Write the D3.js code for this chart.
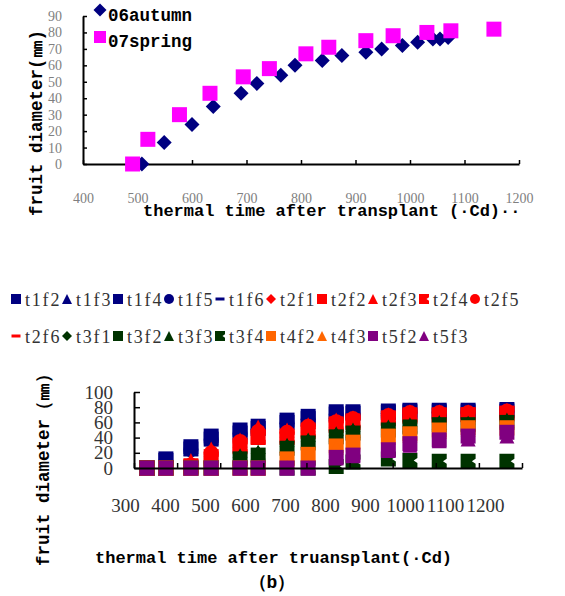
<!DOCTYPE html>
<html>
<head>
<meta charset="utf-8">
<script src="https://cdn.jsdelivr.net/npm/d3@7"></script>
<style>
  body { margin: 0; background: #fff; }
  .mono { font-family: "Liberation Mono", monospace; font-weight: bold; fill: #000; }
</style>
</head>
<body>
<script>
// ---- top chart (a): two seasons ----
const x06 = [508, 549, 600, 639, 690, 719, 763, 789, 839, 875, 919, 948, 986, 1014, 1042, 1055, 1070];
const y06 = [0, 13, 24, 35, 43, 49, 54, 60, 63, 66, 68, 70, 72, 74, 76, 76, 77];
const x07 = [491, 519, 577, 633, 694, 742, 809, 851, 919, 969, 1031, 1075, 1154];
const y07 = [0, 15, 30, 43, 53, 58, 67, 71, 75, 78, 80, 81, 82];
const topXTicks = [400, 500, 600, 700, 800, 900, 1000, 1100, 1200];
const topYTicks = [0, 10, 20, 30, 40, 50, 60, 70, 80, 90];

// ---- bottom chart (b): treatments ----
const tt = [330, 374, 432, 479, 546, 588, 655, 704, 769, 808, 890, 940, 1008, 1075, 1165];
const names = ["t1f2", "t1f3", "t1f4", "t1f5", "t1f6", "t2f1", "t2f2", "t2f3", "t2f4", "t2f5",
               "t2f6", "t3f1", "t3f2", "t3f3", "t3f4", "t4f2", "t4f3", "t5f2", "t5f3"];
const t1f2 = [0, 12, 28, 42, 50, 55, 63, 68, 74, 74, 75, 76, 76, 76, 77];
const t1f3 = [0, 11, 26, 40, 48, 53, 61, 66, 72, 73, 74, 75, 75, 75, 76];
const t1f4 = [0, 10, 25, 38, 46, 52, 60, 65, 71, 72, 73, 74, 74, 74, 75];
const t1f5 = [0, 9, 24, 37, 45, 51, 59, 64, 70, 71, 72, 73, 73, 73, 74];
const t1f6 = [0, 8, 22, 35, 44, 50, 58, 63, 69, 70, 71, 72, 72, 72, 73];
const t2f1 = [0, 0, 5, 18, 33, 45, 45, 52, 60, 64, 68, 72, 72, 72, 74];
const t2f2 = [0, 0, 3, 15, 30, 41, 42, 50, 58, 62, 66, 70, 70, 70, 72];
const t2f3 = [0, 0, 10, 25, 37, 54, 50, 57, 63, 66, 70, 74, 74, 74, 76];
const t2f4 = [0, 0, 2, 12, 28, 40, 40, 48, 56, 60, 65, 68, 69, 70, 72];
const t2f5 = [0, 0, 4, 20, 35, 48, 47, 55, 61, 65, 69, 73, 73, 73, 75];
const t2f6 = [0, 0, 0, 10, 25, 38, 38, 45, 55, 58, 64, 67, 68, 69, 71];
const t3f1 = [0, 0, 0, 0, 14, 19, 28, 35, 43, 48, 52, 55, 58, 58, 61];
const t3f2 = [0, 0, 0, 0, 12, 17, 26, 33, 41, 46, 50, 54, 57, 57, 60];
const t3f3 = [0, 0, 0, 0, 16, 21, 30, 37, 45, 50, 54, 57, 60, 59, 63];
const t3f4 = [0, 0, 0, 0, 0, 0, 0, 0, 2, 8, 12, 10, 9, 9, 9];
const t4f2 = [0, 0, 0, 0, 0, 0, 12, 18, 29, 34, 42, 45, 50, 53, 53];
const t4f3 = [0, 0, 0, 0, 0, 0, 10, 16, 27, 32, 40, 43, 48, 51, 52];
const t5f2 = [0, 0, 0, 0, 0, 0, 0, 0, 14, 17, 24, 32, 37, 42, 47];
const t5f3 = [0, 0, 0, 0, 0, 0, 0, 0, 13, 16, 23, 30, 36, 38, 42];
const values = [t1f2, t1f3, t1f4, t1f5, t1f6, t2f1, t2f2, t2f3, t2f4, t2f5,
                t2f6, t3f1, t3f2, t3f3, t3f4, t4f2, t4f3, t5f2, t5f3];
const botXTicks = [300, 400, 500, 600, 700, 800, 900, 1000, 1100, 1200];
const botYTicks = [0, 20, 40, 60, 80, 100];

const shapes = ["square", "triangle", "square", "circle", "dash", "diamond", "square", "triangle", "notch", "circle",
                "dash", "diamond", "square", "triangle", "notch", "square", "triangle", "square", "triangle"];
const colors = ["#000080", "#000080", "#000080", "#000080", "#000080",
                "#ff0000", "#ff0000", "#ff0000", "#ff0000", "#ff0000", "#ff0000",
                "#003300", "#003300", "#003300", "#003300",
                "#ff6600", "#ff6600", "#800080", "#800080"];

// marker paths, s = full size in px
function marker(shape, s) {
  const h = s / 2;
  if (shape === "square") return `M${-h},${-h}h${s}v${s}h${-s}Z`;
  if (shape === "triangle") return `M0,${-h}L${h},${h}L${-h},${h}Z`;
  if (shape === "diamond") return `M0,${-h}L${h},0L0,${h}L${-h},0Z`;
  if (shape === "circle") return d3.arc()({innerRadius: 0, outerRadius: h, startAngle: 0, endAngle: 2 * Math.PI});
  if (shape === "dash") return `M${-h * 0.9},${-s * 0.15}h${s * 0.9}v${s * 0.3}h${-s * 0.9}Z`;
  if (shape === "notch") return `M${-h},${-h}H${h}V${-s / 6}L${s / 4},0L${h},${s / 6}V${h}H${-h}Z`;
}

const w = 565, h = 596;
const svg = d3.select("body").append("svg").attr("width", w).attr("height", h)
  .style("font-family", "'Liberation Serif', serif");
svg.append("rect").attr("width", w).attr("height", h).attr("fill", "#fff");

// ================= top chart =================
const xTop = d3.scaleLinear().domain([400, 1200]).range([83, 519]);
const yTop = d3.scaleLinear().domain([0, 90]).range([164, 16]);

const gxTop = svg.append("g").attr("transform", "translate(0,164)")
  .call(d3.axisBottom(xTop).tickValues(topXTicks).tickFormat(d3.format("d"))
    .tickSize(-4).tickSizeOuter(0).tickPadding(29));
const gyTop = svg.append("g").attr("transform", "translate(83,0)")
  .call(d3.axisLeft(yTop).tickValues(topYTicks).tickSize(-4).tickSizeOuter(0).tickPadding(21));
[gxTop, gyTop].forEach(g => {
  g.select(".domain").attr("stroke", "#000").attr("stroke-width", 2);
  g.selectAll(".tick line").attr("stroke", "#000").attr("stroke-width", 1.5);
  g.selectAll(".tick text").attr("fill", "#7f7f7f").style("font-size", "14px")
    .style("font-family", "'Liberation Serif', serif");
});

svg.append("g").selectAll("path").data(x06).join("path")
  .attr("transform", (d, i) => `translate(${xTop(d)},${yTop(y06[i])})`)
  .attr("d", marker("diamond", 15)).attr("fill", "#000080");
svg.append("g").selectAll("path").data(x07).join("path")
  .attr("transform", (d, i) => `translate(${xTop(d)},${yTop(y07[i])})`)
  .attr("d", marker("square", 15)).attr("fill", "#ff00ff");

// legend (a)
svg.append("path").attr("transform", "translate(100,10)").attr("d", marker("diamond", 13)).attr("fill", "#000080");
svg.append("path").attr("transform", "translate(100,37)").attr("d", marker("square", 12)).attr("fill", "#ff00ff");
svg.append("text").attr("class", "mono").attr("x", 108).attr("y", 21).style("font-size", "17.5px").text("06autumn");
svg.append("text").attr("class", "mono").attr("x", 108).attr("y", 47).style("font-size", "17.5px").text("07spring");

// axis titles (a)
svg.append("text").attr("class", "mono").attr("x", 143).attr("y", 216).style("font-size", "17px")
  .text("thermal time after transplant (·Cd)··");
svg.append("text").attr("class", "mono")
  .attr("transform", "translate(42,216) rotate(-90)").style("font-size", "17.5px")
  .text("fruit diameter(㎜)");

// ================= bottom chart =================
const xBot = d3.scaleLinear().domain([300, 1200]).range([134, 522]);
const xLab = d3.scaleLinear().domain([300, 1200]).range([125, 485]);
const yBot = d3.scaleLinear().domain([0, 100]).range([468, 392]);

// legend (b)
const legend = svg.append("g").selectAll("g").data(names).join("g")
  .attr("transform", (d, i) => `translate(${16 + (i % 10) * 51},${i < 10 ? 299 : 336})`);
legend.append("path").attr("d", (d, i) => marker(shapes[i], 10)).attr("fill", (d, i) => colors[i]);
legend.append("text").attr("x", 9).attr("y", 7).attr("fill", "#333")
  .style("font-size", "18px").style("letter-spacing", "1.8px").text(d => d);

// markers, drawn in series order
values.forEach((vals, k) => {
  svg.append("g").selectAll("path").data(vals).join("path")
    .attr("transform", (d, i) => `translate(${xBot(tt[i])},${yBot(d)})`)
    .attr("d", marker(shapes[k], 15)).attr("fill", colors[k]);
});

const gxBot = svg.append("g").attr("transform", "translate(0,468)")
  .call(d3.axisBottom(xBot).tickValues(botXTicks).tickSize(-5).tickSizeOuter(0).tickFormat(""));
const gxLab = svg.append("g").attr("transform", "translate(0,468)")
  .call(d3.axisBottom(xLab).tickValues(botXTicks).tickFormat(d3.format("d")).tickSize(0).tickPadding(31));
gxLab.select(".domain").remove();
const gyBot = svg.append("g").attr("transform", "translate(134,0)")
  .call(d3.axisLeft(yBot).tickValues(botYTicks).tickSize(-6).tickSizeOuter(0).tickPadding(21));
[gxBot, gyBot].forEach(g => {
  g.select(".domain").attr("stroke", "#000").attr("stroke-width", 2);
  g.selectAll(".tick line").attr("stroke", "#000").attr("stroke-width", 1.5);
});
[gxLab, gyBot].forEach(g => {
  g.selectAll(".tick text").attr("fill", "#333").style("font-size", "19px")
    .style("font-family", "'Liberation Serif', serif");
});

// axis titles (b)
svg.append("text").attr("class", "mono").attr("x", 95).attr("y", 563).style("font-size", "17px")
  .text("thermal time after truansplant(·Cd)");
svg.append("text").attr("class", "mono").attr("x", 272).attr("y", 588).attr("text-anchor", "middle")
  .style("font-size", "18px").text("（b）");
svg.append("text").attr("class", "mono")
  .attr("transform", "translate(49,566) rotate(-90)").style("font-size", "17.5px")
  .text("fruit diameter（㎜）");
</script>
</body>
</html>
